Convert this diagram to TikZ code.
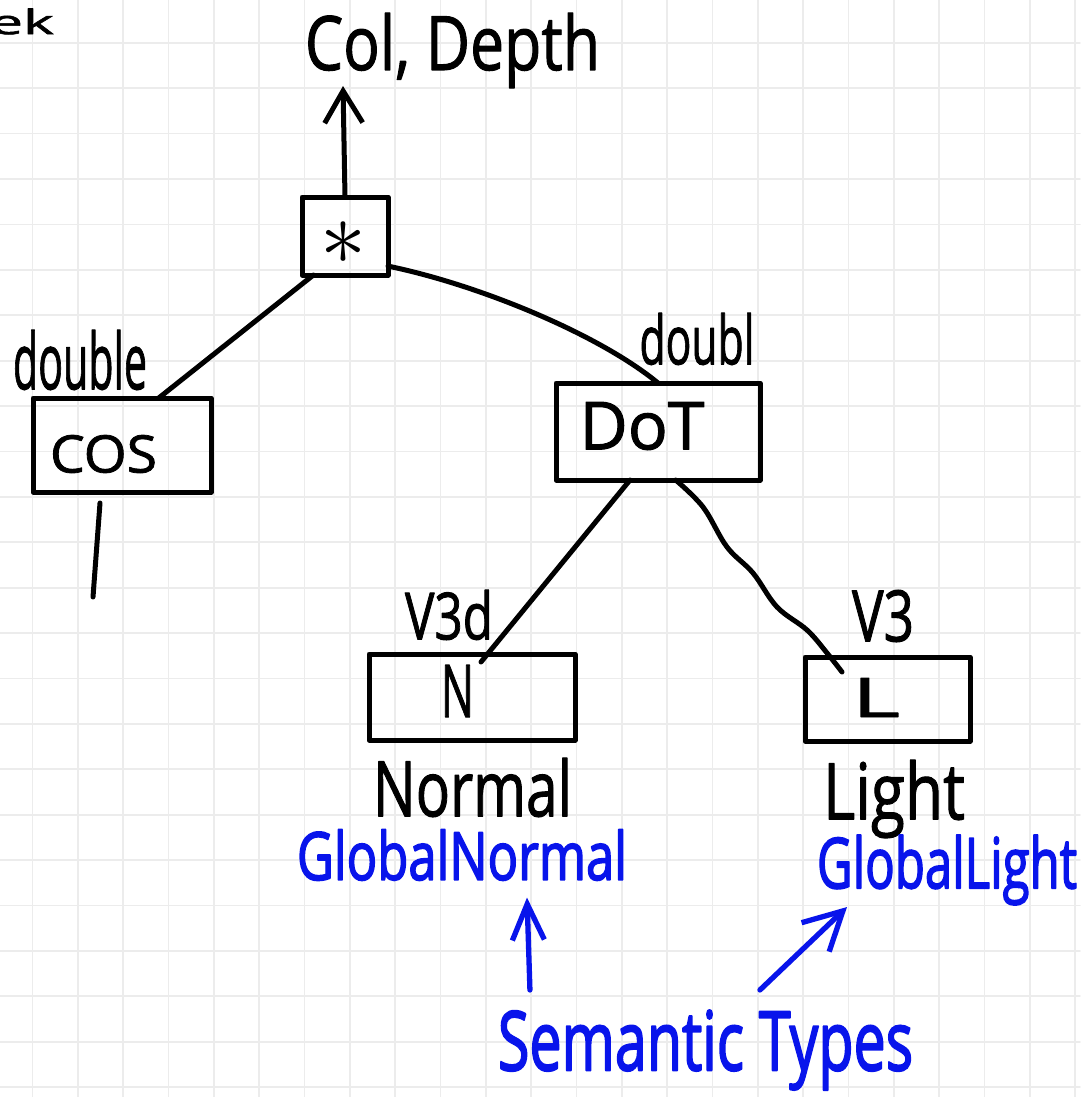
\documentclass[tikz,border=0pt]{standalone}
\usepackage{fontspec}
\setmainfont{Open Sans}
\newfontfamily\inkfont{Open Sans}[FakeBold=1.5]
\newfontfamily\penfont{Open Sans}[FakeBold=2.5]
\usepackage{graphicx}
\usetikzlibrary{arrows.meta}
\definecolor{pen}{RGB}{8,20,235}
\definecolor{gridc}{RGB}{236,236,236}
\newcommand{\hw}[3]{\resizebox*{#1pt}{#2pt}{#3}}
\begin{document}
\begin{tikzpicture}[x=1pt,y=-1pt,line cap=round,line join=round,
  txt/.style={inner sep=0pt,outer sep=0pt,text=black,font=\inkfont},
  btxt/.style={inner sep=0pt,outer sep=0pt,text=pen,font=\penfont},
  boxn/.style={draw=black,line width=5pt,rectangle,inner sep=0pt,outer sep=0pt},
  conn/.style={draw=black,line width=5pt},
  bconn/.style={draw=pen,line width=5.3pt},
  gridl/.style={draw=gridc,line width=1.8pt}]
\useasboundingbox (0,0) rectangle (1080,1097);
\fill[white] (0,0) rectangle (1080,1097);
\foreach \i in {0,...,23} \draw[gridl] ({32.5+45.33*\i},0) -- ({32.5+45.33*\i},1097);
\foreach \j in {0,...,23} \draw[gridl] (0,{42.8+45.4*\j}) -- (1080,{42.8+45.4*\j});

% texts
\node[txt,anchor=east] (corner) at (54,21.5) {\hw{64}{26}{ek}};
\node[txt] (colD) at (452.5,50.5) {\hw{295}{75}{Col, Depth}};
\node[txt] (dbl1) at (80,360) {\hw{134}{60}{double}};
\node[txt] (dbl2) at (697,339) {\hw{115}{52}{doubl}};
\node[txt] (v3d) at (449,615) {\hw{88}{50}{V3d}};
\node[txt] (v3) at (883,616) {\hw{62}{52}{V3}};
\node[txt] (normal) at (472.5,787.5) {\hw{199}{59}{Normal}};
\node[txt] (light) at (894,799) {\hw{142}{78}{Light}};
\node[btxt] (gn) at (462,855) {\hw{330}{51}{GlobalNormal}};
\node[btxt] (gl) at (947,870) {\hw{260}{70}{GlobalLight}};
\node[btxt] (sem) at (705.5,1050) {\hw{415}{80}{Semantic Types}};

% boxes
\node[boxn,minimum width=86pt,minimum height=78pt,
  label={[txt,xshift=-2pt,yshift=-7pt]center:{\resizebox{46pt}{!}{$\ast$}}}] (mul) at (345,236) {};
\node[boxn,minimum width=178pt,minimum height=94pt,
  label={[txt,xshift=-18.5pt,yshift=-9pt]center:{\hw{107}{38}{COS}}}] (cos) at (122,445) {};
\node[boxn,minimum width=204pt,minimum height=97pt,
  label={[txt,xshift=-16pt,yshift=5.5pt]center:{\hw{125}{48}{DoT}}}] (dot) at (658,431.5) {};
\node[boxn,minimum width=206pt,minimum height=86pt,
  label={[txt,xshift=-14.5pt,yshift=6pt]center:{\hw{33}{52}{N}}}] (n) at (472,697) {};
\node[boxn,minimum width=165pt,minimum height=84pt,
  label={[txt,xshift=-11.5pt,yshift=1.5pt]center:{\hw{48}{39}{L}}}] (l) at (887.5,699) {};

% free ends
\coordinate (top) at (343,86);
\coordinate (cosend) at (93,597);

% connectors
\draw[conn,-{Straight Barb[length=32pt,width=38pt]}] (mul.north) -- (top);
\draw[conn] (mul.231) -- (cos.52);
\draw[conn] (mul.-35) .. controls (480,285) and (600,335) .. (dot.north);
\draw[conn] (dot.240) -- ([xshift=9pt,yshift=-8pt]n.north);
\draw[conn] plot[smooth,tension=0.6] coordinates {(dot.-70) (703,507) (727,547) (753,573) (777,607) (807,630) (827,653) ([xshift=-45.5pt,yshift=-15pt]l.north)};
\draw[conn] ([xshift=-22pt,yshift=-11pt]cos.south) -- (cosend);

\draw[bconn,-{Straight Barb[length=36pt,width=32pt]}] ([xshift=32pt,yshift=20pt]sem.north west) -- ([xshift=65pt,yshift=-17pt]gn.south);
\draw[bconn,-{Straight Barb[length=38pt,width=40pt]}] ([xshift=262pt,yshift=20pt]sem.north west) -- ([xshift=-100pt,yshift=-2pt]gl.south);
\end{tikzpicture}
\end{document}
